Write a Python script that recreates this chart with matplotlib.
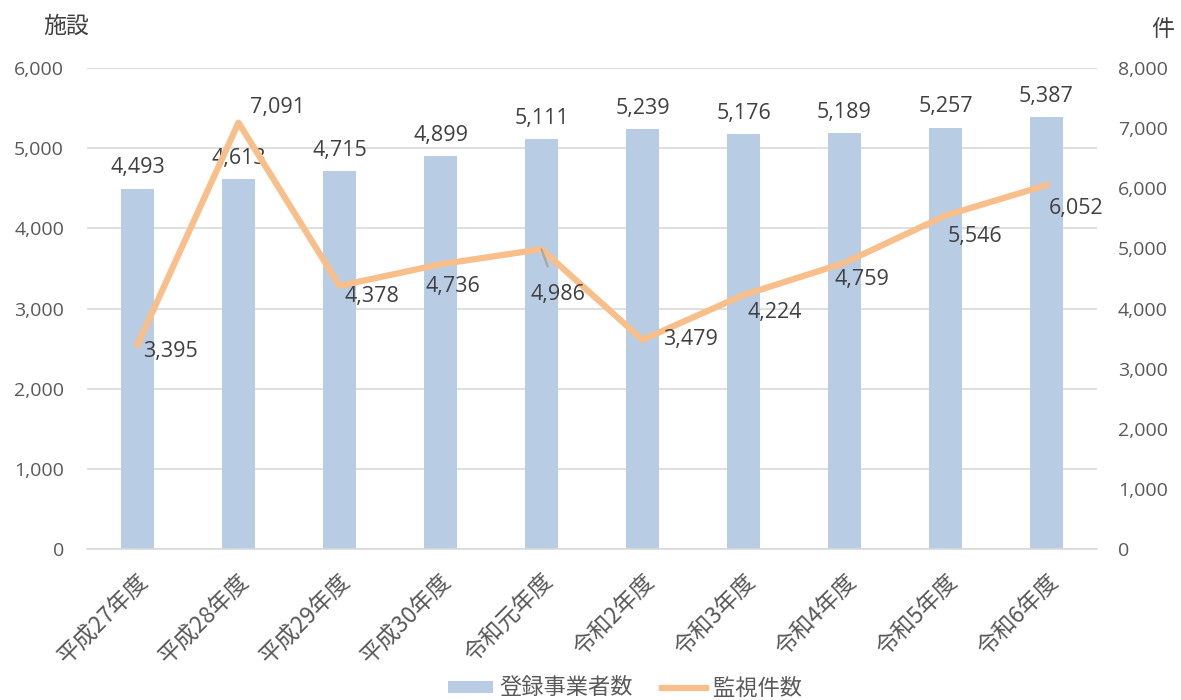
import numpy as np
import matplotlib
matplotlib.use("Agg")
import matplotlib.pyplot as plt

plt.rcParams['font.family'] = ['Noto Sans CJK JP', 'DejaVu Sans']

years = ['平成27年度', '平成28年度', '平成29年度', '平成30年度', '令和元年度',
         '令和2年度', '令和3年度', '令和4年度', '令和5年度', '令和6年度']
facilities = [4493, 4613, 4715, 4899, 5111, 5239, 5176, 5189, 5257, 5387]
monitoring = [3395, 7091, 4378, 4736, 4986, 3479, 4224, 4759, 5546, 6052]
# label offsets (pixels) for the line labels
line_offsets = [(33, -7), (39, 15), (32, -11), (12, -22), (16, -45),
                (48, 0), (31, -17), (17, -17), (29, -21), (30, -23)]

bar_color = '#B8CCE4'
line_color = '#F8BF8A'
text_color = '#404040'
tick_color = '#595959'
num_font = ['Open Sans', 'DejaVu Sans']

fig = plt.figure(figsize=(11.81, 7.0), dpi=100)
ax = fig.add_axes([87 / 1181, 1 - 549 / 700, 1010 / 1181, 481 / 700])
ax2 = ax.twinx()

x = np.arange(len(years))
ax.bar(x, facilities, width=0.32, color=bar_color, zorder=2, label='登録事業者数')
ax.set_ylim(0, 6000)
ax.set_xlim(-0.5, len(years) - 0.5)
ax.set_yticks(np.arange(0, 6001, 1000))
ax.yaxis.set_major_formatter(matplotlib.ticker.FuncFormatter(lambda v, p: f'{int(v):,}'))
ax.grid(axis='y', color='#D9D9D9', linewidth=1.2, zorder=0)
ax.set_axisbelow(True)

for xi, v in zip(x, facilities):
    ax.annotate(f'{v:,}', (xi, v), xytext=(0, 21), textcoords='offset pixels',
                ha='center', va='center', fontsize=15.5, color=text_color,
                family=num_font)

ax2.plot(x, monitoring, color=line_color, linewidth=4.5, solid_joinstyle='round',
         zorder=3, label='監視件数')
ax2.set_ylim(0, 8000)
ax2.set_yticks(np.arange(0, 8001, 1000))
ax2.yaxis.set_major_formatter(matplotlib.ticker.FuncFormatter(lambda v, p: f'{int(v):,}'))

for i, (xi, v) in enumerate(zip(x, monitoring)):
    dx, dy = line_offsets[i]
    if i == 4:
        ax2.annotate(f'{v:,}', (xi, v), xytext=(dx, dy), textcoords='offset pixels',
                     ha='center', va='center', fontsize=15.5, color=text_color,
                     family=num_font,
                     arrowprops=dict(arrowstyle='-', color='#A6A6A6', lw=1.5,
                                     shrinkA=11, shrinkB=0))
    else:
        ax2.annotate(f'{v:,}', (xi, v), xytext=(dx, dy), textcoords='offset pixels',
                     ha='center', va='center', fontsize=15.5, color=text_color,
                     family=num_font)

for a in (ax, ax2):
    for s in a.spines.values():
        s.set_visible(False)
    a.tick_params(length=0, labelsize=14, colors=tick_color)
    for lab in a.get_yticklabels():
        lab.set_family(num_font)
ax.spines['bottom'].set_visible(True)
ax.spines['bottom'].set_color('#D9D9D9')
ax.spines['bottom'].set_linewidth(1.2)
ax.tick_params(axis='y', pad=16.5)
ax2.tick_params(axis='y', pad=15)

ax.set_xticks(x)
ax.set_xticklabels(years, rotation=45, ha='right', rotation_mode='anchor',
                   fontsize=16.5, color=tick_color)
ax.tick_params(axis='x', pad=15)

fig.text(66 / 1181, 1 - 26 / 700, '施設', fontsize=16.5, color=text_color, ha='center', va='center')
fig.text(1163 / 1181, 1 - 30 / 700, '件', fontsize=16.5, color=text_color, ha='center', va='center')

h1, l1 = ax.get_legend_handles_labels()
h2, l2 = ax2.get_legend_handles_labels()
fig.legend(h1 + h2, l1 + l2, loc='center', bbox_to_anchor=(625 / 1181, 1 - 688 / 700),
           ncol=2, frameon=False, fontsize=16, labelcolor=tick_color,
           handlelength=2.0, handleheight=0.45, columnspacing=1.3, handletextpad=0.3)

fig.savefig('out.png', dpi=100)
